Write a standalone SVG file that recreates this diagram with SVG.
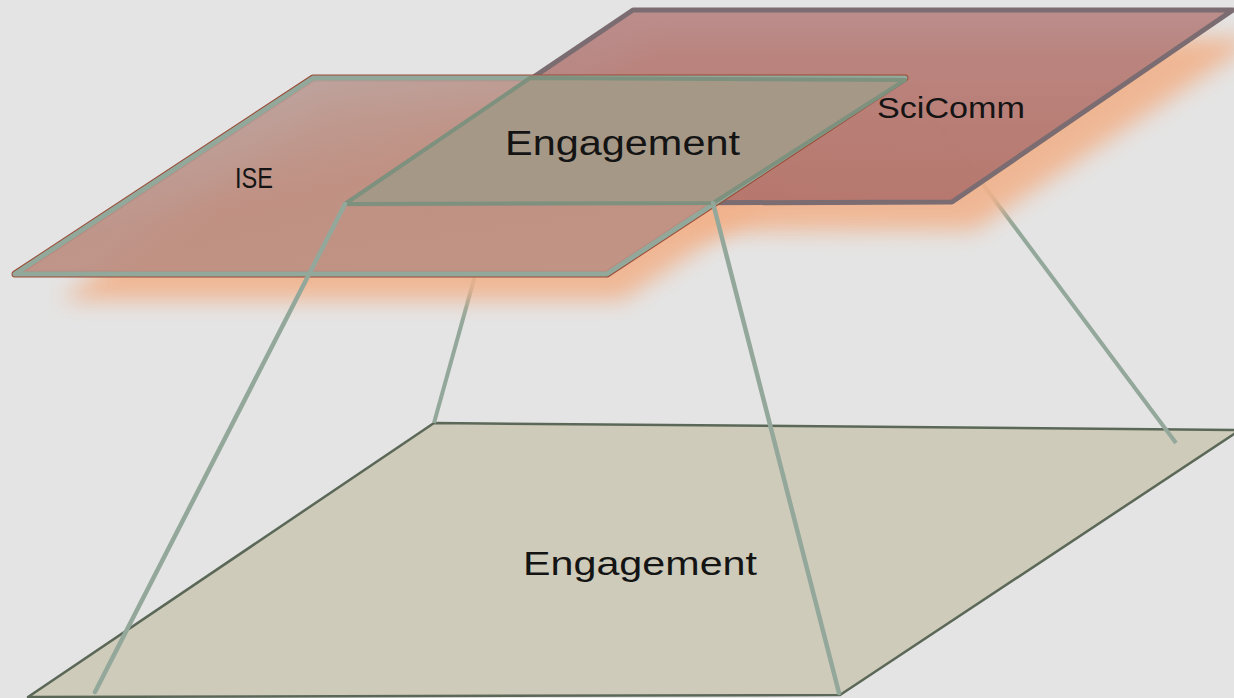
<svg xmlns="http://www.w3.org/2000/svg" width="1234" height="698" viewBox="0 0 1234 698">
  <defs>
    <linearGradient id="gIse" x1="0" y1="0" x2="1" y2="1">
      <stop offset="0" stop-color="#b9a5a2"/>
      <stop offset="0.45" stop-color="#bc8e82"/>
      <stop offset="1" stop-color="#bd9284"/>
    </linearGradient>
    <linearGradient id="gSci" x1="0" y1="0" x2="0" y2="1">
      <stop offset="0" stop-color="#b68381"/>
      <stop offset="1" stop-color="#b0716a"/>
    </linearGradient>
    <filter id="glow" x="-10%" y="-40%" width="120%" height="180%">
      <feGaussianBlur stdDeviation="11"/>
    </filter>
    <style>
      .txt { font-family: "Liberation Sans", Arial, sans-serif; fill: #141414; }
      .conn { stroke: #93a89b; stroke-width: 4.5; fill: none; stroke-linecap: round; }
      .connBack { stroke: #93a89b; stroke-width: 4; fill: none; }
      .shadow { fill: #f1b28c; opacity: 0.9; filter: url(#glow); }
    </style>
  </defs>

  <rect width="1234" height="698" fill="#e4e4e4"/>

  <g id="bottom-plane">
    <polygon points="434,423 1240,430 840,695 28,697" fill="#cecbba" stroke="#5b6858" stroke-width="2.5" stroke-linejoin="round"/>
    <text class="txt" x="523" y="575" font-size="34" textLength="234" lengthAdjust="spacingAndGlyphs">Engagement</text>
  </g>

  <g id="connectors-behind">
    <line class="connBack" x1="530" y1="78" x2="434" y2="423"/>
    <line class="connBack" x1="905" y1="80" x2="1176" y2="443"/>
  </g>

  <g id="glow-layer">
    <polygon class="shadow" points="655,38 1260,38 975,230 370,232"/>
    <polygon class="shadow" points="330,104 920,104 622,300 60,300"/>
  </g>

  <g id="scicomm">
    <polygon points="633,10 1233,10 952,202 345,204" fill="url(#gSci)" fill-opacity="0.9" stroke="#7a6c71" stroke-width="5" stroke-linejoin="round"/>
    <text class="txt" x="877" y="118" font-size="29" textLength="148" lengthAdjust="spacingAndGlyphs">SciComm</text>
  </g>

  <g id="ise">
    <polygon points="313,78 905,78 607,274 15,274" fill="none" stroke="#9a4a34" stroke-width="7" stroke-linejoin="round"/>
    <polygon points="313,78 905,78 607,274 15,274" fill="url(#gIse)" fill-opacity="0.92" stroke="#92a89b" stroke-width="5" stroke-linejoin="round"/>
    <text class="txt" x="235" y="188" font-size="30" textLength="38" lengthAdjust="spacingAndGlyphs">ISE</text>
  </g>

  <g id="engagement-overlap">
    <polygon points="530,78 905,80 713,203 345,204" fill="#a69887" stroke="#7e917e" stroke-width="4" stroke-linejoin="round"/>
    <text class="txt" x="505" y="155" font-size="35" textLength="235" lengthAdjust="spacingAndGlyphs">Engagement</text>
  </g>

  <g id="connectors-front">
    <line class="conn" x1="345" y1="204" x2="95" y2="692"/>
    <line class="conn" x1="713" y1="203" x2="839" y2="693"/>
  </g>
</svg>
